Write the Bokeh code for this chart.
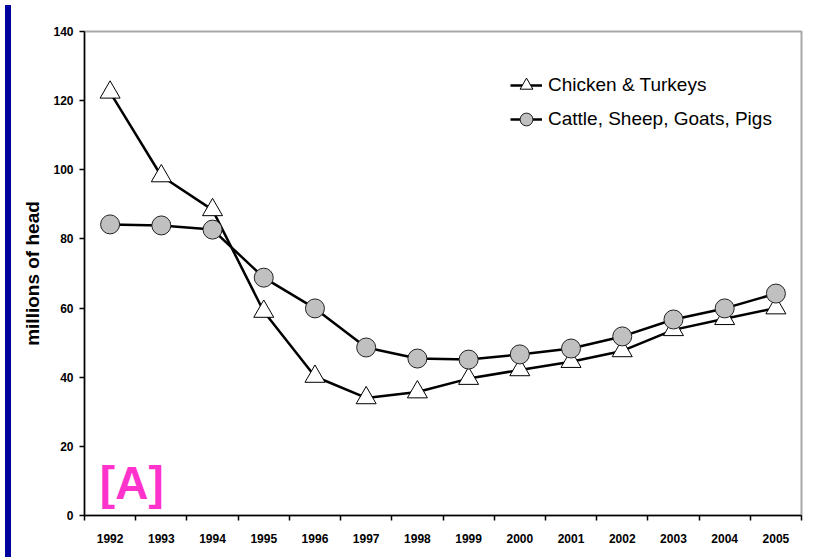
from bokeh.plotting import figure
from bokeh.models import Range1d, FixedTicker, Legend, LegendItem, Label, Div
from bokeh.layouts import row
from bokeh.embed import file_html
from bokeh.resources import INLINE

years = list(range(1992, 2006))
poultry = [122.4, 98.2, 88.4, 59.0, 40.2, 34.0, 35.7, 39.6, 42.1, 44.5, 47.6, 53.7, 56.9, 60.0]
livestock = [84.2, 83.9, 82.7, 68.8, 59.9, 48.6, 45.4, 45.1, 46.6, 48.3, 51.8, 56.7, 59.9, 64.2]
y_ticks = [0, 20, 40, 60, 80, 100, 120, 140]
series_names = ["Chicken & Turkeys", "Cattle, Sheep, Goats, Pigs"]
y_title = "millions of head"
panel_tag = "[A]"

FONT = "Liberation Sans"

p = figure(width=811, height=560, output_backend="svg", toolbar_location=None,
           x_range=Range1d(years[0] - 0.5, years[-1] + 0.5), y_range=Range1d(y_ticks[0], y_ticks[-1]),
           min_border_left=68, min_border_right=26, min_border_top=31, min_border_bottom=45,
           background_fill_color="white", border_fill_color="white")

p.xgrid.visible = False
p.ygrid.visible = False
p.outline_line_color = "#a8a8a8"
p.outline_line_width = 2

xa = p.xaxis[0]
xa.ticker = FixedTicker(ticks=years, minor_ticks=[y - 0.5 for y in years] + [years[-1] + 0.5])
xa.major_tick_out = 0
xa.major_tick_in = 0
xa.minor_tick_out = 5
xa.minor_tick_in = 0
xa.minor_tick_line_color = "black"
xa.minor_tick_line_width = 1.5
xa.axis_line_color = "black"
xa.axis_line_width = 1.5
xa.major_label_standoff = 13
xa.major_label_text_font = FONT
xa.major_label_text_font_style = "bold"
xa.major_label_text_font_size = "12px"
xa.major_label_text_color = "black"

ya = p.yaxis[0]
ya.ticker = FixedTicker(ticks=y_ticks)
ya.major_tick_out = 5
ya.major_tick_in = 0
ya.minor_tick_out = 0
ya.minor_tick_in = 0
ya.major_tick_line_color = "black"
ya.major_tick_line_width = 1.5
ya.axis_line_color = "black"
ya.axis_line_width = 1.5
ya.major_label_standoff = 6
ya.major_label_text_font = FONT
ya.major_label_text_font_style = "bold"
ya.major_label_text_font_size = "12px"
ya.major_label_text_color = "black"
ya.axis_label = y_title
ya.axis_label_text_font = FONT
ya.axis_label_text_font_style = "bold"
ya.axis_label_text_font_size = "19px"
ya.axis_label_text_color = "black"
ya.axis_label_standoff = 7

l1 = p.line(years, poultry, line_color="black", line_width=2.5)
s1 = p.scatter(years, poultry, marker="triangle", size=20, fill_color="white",
               line_color="black", line_width=1)
l2 = p.line(years, livestock, line_color="black", line_width=2.5)
s2 = p.scatter(years, livestock, marker="circle", size=19, fill_color="#c0c0c0",
               line_color="#222222", line_width=1)

legend = Legend(items=[LegendItem(label=series_names[0], renderers=[l1, s1]),
                       LegendItem(label=series_names[1], renderers=[l2, s2])],
                location=(426, 379), border_line_color=None, background_fill_alpha=0,
                label_text_font=FONT, label_text_font_size="19px", label_text_color="black",
                glyph_width=32, glyph_height=34, label_height=20, spacing=0,
                padding=0, margin=0, label_standoff=6)
p.add_layout(legend)

tag = Label(x=years[0] - 0.2, y=2.0, text=panel_tag, text_color="#ff33cc",
            text_font=FONT, text_font_style="bold", text_font_size="46px",
            text_baseline="bottom")
p.add_layout(tag)

stripe = Div(width=6, height=552, styles={"background-color": "#00009c"})
layout = row(stripe, p)

open("out.html", "w").write(file_html(layout, INLINE))
